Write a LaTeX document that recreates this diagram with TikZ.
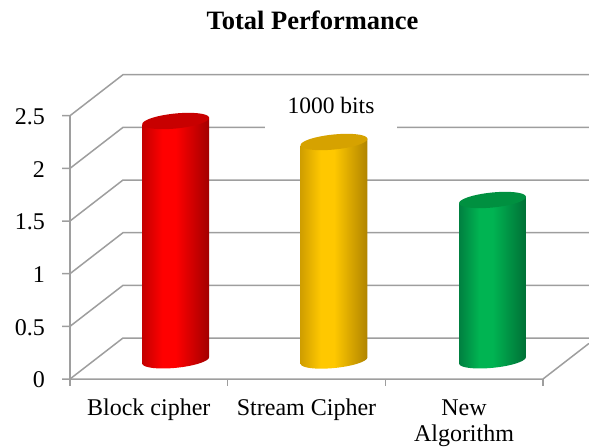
\documentclass[tikz,border=0pt]{standalone}
\usepackage{fontspec}
\setmainfont{Liberation Serif}
\definecolor{gridc}{HTML}{9E9E9E}
\definecolor{rL}{HTML}{C40000}\definecolor{rM}{HTML}{FF0000}\definecolor{rR}{HTML}{A20000}\definecolor{rT}{HTML}{C80000}
\definecolor{yL}{HTML}{D09E00}\definecolor{yM}{HTML}{FFC800}\definecolor{yR}{HTML}{B08400}\definecolor{yT}{HTML}{D6A200}
\definecolor{gL}{HTML}{008040}\definecolor{gM}{HTML}{00B452}\definecolor{gR}{HTML}{007036}\definecolor{gT}{HTML}{009040}
\pgfdeclarehorizontalshading{cylr}{100bp}{color(0bp)=(rL); color(25bp)=(rL); color(40bp)=(rM); color(50bp)=(rM); color(75bp)=(rR); color(100bp)=(rR)}
\pgfdeclarehorizontalshading{cyly}{100bp}{color(0bp)=(yL); color(25bp)=(yL); color(40bp)=(yM); color(50bp)=(yM); color(75bp)=(yR); color(100bp)=(yR)}
\pgfdeclarehorizontalshading{cylg}{100bp}{color(0bp)=(gL); color(25bp)=(gL); color(40bp)=(gM); color(50bp)=(gM); color(75bp)=(gR); color(100bp)=(gR)}
\newcommand\mycylinder[5]{%
  \shade[shading=#4] ({#1-33.33},{#2+3.33}) -- plot[domain=180:360,samples=60] ({#1+33.5*cos(\x)*0.99506-7.5*sin(\x)*0.09932},{#3-(33.5*cos(\x)*0.09932+7.5*sin(\x)*0.99506)}) -- ({#1+33.33},{#2-3.33}) -- cycle;
  \fill[#5] plot[domain=0:360,samples=90] ({#1+33.5*cos(\x)*0.99506-7.5*sin(\x)*0.09932},{#2-(33.5*cos(\x)*0.09932+7.5*sin(\x)*0.99506)}) -- cycle;
}
\tikzset{
  grid/.style={draw=gridc, line width=1.5pt},
  lab/.style={inner sep=0pt, font=\fontsize{24}{28.8}\selectfont},
}
\begin{document}
\begin{tikzpicture}[x=1pt,y=-1pt]
\useasboundingbox (0,0) rectangle (589,447);
% grid: back lines, diagonals, y ticks
\foreach \i/\t in {0/0,1/0.5,2/1,3/1.5,4/2,5/2.5}{
  \pgfmathsetmacro\fy{379-52.66*\i}
  \draw[grid] (62,\fy) -- (70,\fy) -- (123,{\fy-41}) -- (589,{\fy-41});
  \node[lab, anchor=base east] (y\i) at (45,{\fy+8.7}) {\t};
}
% front axis and floor
\draw[grid] (70,115.7) -- (70,386);
\draw[grid] (70,379) -- (543,379) -- (589,343.4);
\foreach \xx in {227.7,385.3,543}{\draw[grid] (\xx,379) -- (\xx,386);}
% label over the grid
\node[lab, font=\fontsize{23.5}{28}\selectfont, fill=white, text height=28pt, text depth=18pt, minimum width=132pt, anchor=base] (bits) at (331,113.3) {1000 bits};
% cylinders
\mycylinder{175.7}{121}{360.3}{cylr}{rT}
\mycylinder{334}{142}{360.5}{cyly}{yT}
\mycylinder{492.5}{200}{360.3}{cylg}{gT}
% title and category labels
\node[inner sep=0pt, font=\bfseries\fontsize{26.5}{30}\selectfont, anchor=base] (title) at (312.5,29.3) {Total Performance};
\node[lab, anchor=base] (c1) at (148.8,415) {Block cipher};
\node[lab, anchor=base] (c2) at (306.5,415) {Stream Cipher};
\node[lab, anchor=base] (c3a) at (464,415) {New};
\node[lab, anchor=base] (c3b) at (464,441.7) {Algorithm};
\end{tikzpicture}
\end{document}
